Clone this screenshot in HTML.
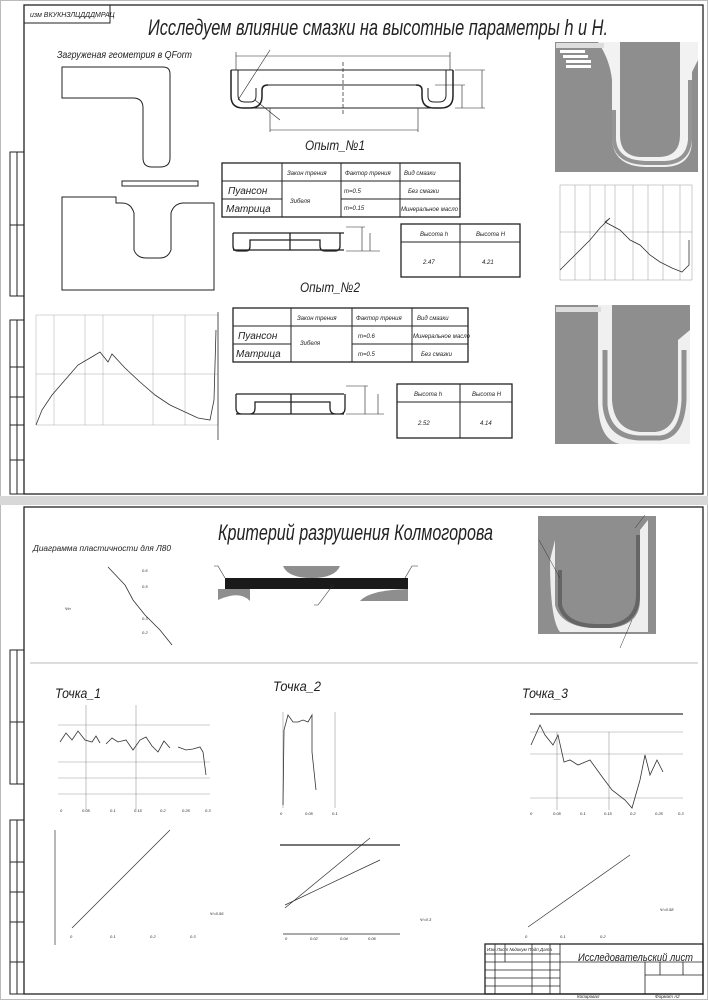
<!DOCTYPE html>
<html><head><meta charset="utf-8"><style>
html,body{margin:0;padding:0;background:#fff}
svg{display:block}
text{font-family:"Liberation Sans","DejaVu Sans",sans-serif;font-style:italic;fill:#222}
</style></head><body>
<svg width="708" height="1000" viewBox="0 0 708 1000" xmlns="http://www.w3.org/2000/svg">
<rect x="0" y="0" width="708" height="1000" fill="#fff"/>
<rect x="0.5" y="0.5" width="707" height="999" fill="none" stroke="#bbb"/>
<rect x="0" y="496" width="708" height="9" fill="#d8d8d8"/>
<g fill="none" stroke="#222" stroke-width="1">
<rect x="24" y="5" width="679" height="489" stroke-width="1.3"/>
<rect x="24" y="5" width="86" height="18"/>
<rect x="10" y="152" width="14" height="144"/><line x1="10" y1="225" x2="24" y2="225"/><line x1="17" y1="152" x2="17" y2="296"/>
<rect x="10" y="320" width="14" height="174"/><line x1="17" y1="320" x2="17" y2="494"/>
<line x1="10" y1="367" x2="24" y2="367"/><line x1="10" y1="397" x2="24" y2="397"/><line x1="10" y1="425" x2="24" y2="425"/><line x1="10" y1="460" x2="24" y2="460"/>
<path d="M62,67 H163 Q170,67 170,74 V158 Q170,167 160,167 H152 Q143,167 143,158 V108 Q143,98 133,98 H62 Z"/>
<rect x="122" y="181" width="76" height="5"/>
<path d="M62,197 H116 V203 H122 Q131,203 134,213 V250 Q137,258 146,258 H160 Q168,258 171,250 V213 Q174,203 184,203 H214 V290 H62 Z"/>
<path d="M231,70 H453 M268,85 H419 M247,108 H440" />
<path d="M231,70 V96 Q231,108 243,108 H250 Q262,108 262,96 V90 Q262,85 268,85" stroke-width="1.5"/>
<path d="M238,70 V95 Q238,102 245,102 H250 Q256,102 256,96 V88" />
<path d="M453,70 V96 Q453,108 441,108 H434 Q422,108 422,96 V90 Q422,85 416,85" stroke-width="1.5"/>
<path d="M446,70 V95 Q446,102 439,102 H434 Q428,102 428,96 V88"/>
<line x1="343" y1="62" x2="343" y2="115" stroke-dasharray="4,2" stroke-width="0.7"/>
<path d="M236,56 H450 M236,52 V70 M450,52 V70 M270,130 H418 M270,108 V132 M418,108 V132" stroke-width="0.6"/>
<path d="M455,70 H485 M455,108 H485 M482,70 V108 M435,85 H465 M462,85 V108" stroke-width="0.6"/>
<path d="M238,100 L270,50 M255,100 L280,120" stroke-width="0.6"/>
<rect x="222" y="163" width="238" height="54" stroke-width="1.3"/>
<path d="M282,163 V217 M341,163 V217 M400,163 V217 M222,181 H460 M222,199 H282 M341,199 H460"/>
<path d="M233,233 H344 M233,250 H344 M290,233 V250 M233,233 V246 Q233,251 238,251 H246 Q250,251 250,246 V240 H320 V246 Q320,251 325,251 H335 Q340,251 340,246 V233" stroke-width="1.3"/>
<path d="M346,227 H365 M346,251 H380 M362,227 V251 M370,233 V251" stroke-width="0.6"/>
<rect x="401" y="224" width="119" height="53" stroke-width="1.3"/>
<path d="M401,242 H520 M460,224 V277"/>
<rect x="233" y="308" width="235" height="54" stroke-width="1.3"/>
<path d="M291,308 V362 M352,308 V362 M412,308 V362 M233,326 H468 M233,344 H291 M352,344 H468"/>
<path d="M236,394 H344 M236,414 H344 M291,394 V414 M236,394 V408 Q236,414 242,414 H250 Q255,414 255,408 V402 H330 V408 Q330,414 336,414 H340 Q345,414 345,408 V394" stroke-width="1.3"/>
<path d="M346,386 H368 M346,414 H384 M365,386 V414 M378,394 V414" stroke-width="0.6"/>
<rect x="397" y="384" width="115" height="54" stroke-width="1.3"/>
<path d="M397,402 H512 M460,384 V438"/>
</g>
<!-- sim image 1 -->
<rect x="555" y="42" width="143" height="130" fill="#8e8e8e"/>
<path d="M598,42 Q610,60 612,80 V140 Q614,166 645,167 H665 Q692,166 692,140 V72 L698,60 V42 Z" fill="#f2f2f2"/>
<path d="M614,110 V140 Q616,162 645,163 H665 Q688,162 690,140 V80" fill="none" stroke="#555" stroke-width="4" opacity="0.6"/>
<path d="M620,42 H680 V135 Q680,156 660,157 H640 Q620,156 620,135 Z" fill="#8e8e8e"/>
<rect x="556" y="43" width="48" height="5" fill="#ddd"/>
<rect x="560" y="50" width="25" height="3" fill="#fff"/><rect x="563" y="55" width="25" height="3" fill="#fff"/><rect x="566" y="60" width="25" height="3" fill="#fff"/><rect x="566" y="65" width="25" height="3" fill="#fff"/>
<!-- chart top right -->
<g fill="none" stroke="#999" stroke-width="0.5">
<rect x="560" y="185" width="132" height="95"/>
<path d="M575,185 V280 M590,185 V280 M605,185 V280 M615,185 V280 M633,185 V280 M648,185 V280 M663,185 V280 M680,185 V280 M560,232 H692"/>
</g>
<path d="M560,270 L575,255 L590,240 L600,228 L610,218 L605,222 L620,230 L630,240 L640,245 L650,255 L660,262 L672,268 L682,272 L689,265 V240" fill="none" stroke="#333" stroke-width="0.8"/>
<!-- chart left -->
<g fill="none" stroke="#aaa" stroke-width="0.5">
<rect x="36" y="315" width="182" height="110"/>
<path d="M54,315 V425 M85,315 V425 M103,315 V425 M153,315 V425 M185,315 V425 M36,374 H218"/>
</g>
<path d="M36,425 L42,410 L52,395 L65,380 L78,365 L90,358 L100,352 L108,362 L112,354 L125,368 L140,382 L155,395 L170,405 L185,412 L198,418 L210,420 L214,400 L216,330" fill="none" stroke="#333" stroke-width="0.8"/>
<line x1="218" y1="312" x2="218" y2="440" stroke="#333" stroke-width="0.8"/>
<!-- sim image 2 -->
<rect x="555" y="305" width="135" height="139" fill="#8e8e8e"/>
<path d="M598,305 H612 V400 Q614,430 640,432 H655 Q676,430 678,400 V340 L690,330 V444 H620 Q598,440 598,400 Z" fill="#f0f0f0"/>
<path d="M605,350 V405 Q608,437 640,438 H660 Q682,436 684,400 V350" fill="none" stroke="#444" stroke-width="5" opacity="0.55"/>
<rect x="612" y="305" width="66" height="95" fill="#8e8e8e"/>
<rect x="556" y="307" width="45" height="5" fill="#ddd"/>

<!-- bottom sheet -->
<g fill="none" stroke="#222" stroke-width="1">
<rect x="24" y="507" width="679" height="487" stroke-width="1.3"/>
<line x1="30" y1="663" x2="698" y2="663" stroke="#bbb"/>
<rect x="10" y="650" width="14" height="134"/><line x1="10" y1="722" x2="24" y2="722"/><line x1="17" y1="650" x2="17" y2="784"/>
<rect x="10" y="820" width="14" height="174"/><line x1="17" y1="820" x2="17" y2="994"/>
<line x1="10" y1="862" x2="24" y2="862"/><line x1="10" y1="892" x2="24" y2="892"/><line x1="10" y1="922" x2="24" y2="922"/><line x1="10" y1="962" x2="24" y2="962"/>
</g>
<path d="M283,566 H340 Q335,578 312,578 Q288,578 283,566 Z" fill="#8e8e8e"/>
<path d="M218,589 H250 V601 Q240,590 218,600 Z" fill="#8e8e8e"/>
<path d="M360,601 Q370,590 408,589 V601 Z" fill="#8e8e8e"/>
<rect x="225" y="578" width="183" height="11" fill="#1a1a1a"/>
<g stroke="#333" stroke-width="0.6" fill="none"><path d="M225,578 L218,566 H214 M405,578 L412,566 H418 M333,585 L318,605 H314"/></g>
<path d="M108,567 L125,585 L133,600 L145,615 L160,630 L172,645" fill="none" stroke="#333" stroke-width="0.8"/>
<g font-size="4" fill="#555"><text x="142" y="572">0.6</text><text x="142" y="588">0.5</text><text x="142" y="620">0.3</text><text x="142" y="634">0.2</text><text x="65" y="610">Ψп</text></g>
<!-- sim image 3 -->
<rect x="538" y="516" width="118" height="118" fill="#8e8e8e"/>
<path d="M555,540 V605 Q560,625 590,628 H610 Q640,625 640,600 V530 L648,520 V632 H560 Q550,620 550,560 Z" fill="#eee"/>
<rect x="570" y="516" width="62" height="94" fill="#8e8e8e"/>
<path d="M560,570 V605 Q565,625 595,626 H610 Q638,622 638,595 V535" fill="none" stroke="#444" stroke-width="4" opacity="0.55"/>
<g stroke="#333" stroke-width="0.5" fill="none"><path d="M539,540 L560,578 M645,515 L635,528 M620,648 L632,620"/></g>
<!-- Tochka charts top -->
<g fill="none" stroke="#999" stroke-width="0.6">
<path d="M58,725 H210 M58,762 H210 M58,778 H210 M58,794 H210 M86,705 V810 M136,705 V810"/>
<path d="M283,712 V808 M335,712 V808"/>
<path d="M530,732 H683 M530,754 H683 M530,798 H683 M557,732 V810 M609,732 V810"/>
</g>
<line x1="530" y1="714" x2="683" y2="714" stroke="#555" stroke-width="1.5"/>
<path d="M60,742 L66,733 L72,740 L78,731 L85,740 L92,742 L96,736 L100,743 M106,744 L112,738 L118,742 L126,740 L133,750 L140,740 L146,737 L152,746 L158,752 L164,741 L170,748 M178,747 L186,750 L193,749 L200,747 L203,752 L206,775" fill="none" stroke="#333" stroke-width="0.8"/>
<path d="M283,805 L284,730 L288,715 L293,722 L298,722 L303,720 L308,722 L312,715 L312,752 L316,790" fill="none" stroke="#333" stroke-width="0.8"/>
<path d="M531,745 L540,725 L545,735 L553,745 L558,735 L564,762 L570,760 L578,765 L590,760 L603,778 L612,790 L625,800 L632,808 L640,780 L645,755 L650,775 L657,760 L663,772" fill="none" stroke="#333" stroke-width="0.8"/>
<g font-size="4" fill="#555">
<text x="60" y="812">0</text><text x="82" y="812">0.05</text><text x="110" y="812">0.1</text><text x="134" y="812">0.15</text><text x="160" y="812">0.2</text><text x="182" y="812">0.25</text><text x="205" y="812">0.3</text>
<text x="280" y="815">0</text><text x="305" y="815">0.05</text><text x="332" y="815">0.1</text>
<text x="530" y="815">0</text><text x="553" y="815">0.05</text><text x="580" y="815">0.1</text><text x="604" y="815">0.15</text><text x="630" y="815">0.2</text><text x="655" y="815">0.25</text><text x="678" y="815">0.3</text>
</g>
<g fill="none" stroke="#333" stroke-width="0.7">
<line x1="55" y1="830" x2="55" y2="945"/>
<line x1="72" y1="928" x2="170" y2="830"/>
<line x1="285" y1="905" x2="380" y2="860"/>
<line x1="285" y1="908" x2="370" y2="838"/>
<line x1="528" y1="927" x2="630" y2="855"/>
</g>
<line x1="280" y1="845" x2="400" y2="845" stroke="#222" stroke-width="1.3"/>
<line x1="283" y1="934" x2="400" y2="934" stroke="#777" stroke-width="1.2"/>
<g font-size="4" fill="#555">
<text x="70" y="938">0</text><text x="110" y="938">0.1</text><text x="150" y="938">0.2</text><text x="190" y="938">0.3</text><text x="210" y="915">Ψ=0.56</text>
<text x="285" y="940">0</text><text x="310" y="940">0.02</text><text x="340" y="940">0.04</text><text x="368" y="940">0.06</text><text x="420" y="921">Ψ=0.3</text>
<text x="525" y="938">0</text><text x="560" y="938">0.1</text><text x="600" y="938">0.2</text><text x="660" y="911">Ψ=0.58</text>
</g>
<g fill="none" stroke="#222" stroke-width="0.8">
<rect x="485" y="944" width="218" height="50" stroke-width="1.3"/>
<path d="M485,954 H560 M485,962 H560 M485,970 H560 M485,978 H560 M485,986 H560 M495,944 V994 M505,944 V962 M532,944 V994 M550,944 V994 M560,944 V994 M560,962 H703 M645,962 V994 M645,975 H703 M660,962 V975 M683,962 V975"/>
</g>
<text x="30" y="17" font-size="7">изм  ВКУКНЗЛЦДДДМРАЦ</text>
<text x="148" y="35" font-size="22" textLength="460" lengthAdjust="spacingAndGlyphs">Исследуем влияние смазки на высотные параметры h и H.</text>
<text x="57" y="58" font-size="10" textLength="135" lengthAdjust="spacingAndGlyphs">Загруженая геометрия в QForm</text>
<text x="305" y="150" font-size="14" textLength="60" lengthAdjust="spacingAndGlyphs">Опыт_№1</text>
<text x="300" y="292" font-size="14" textLength="60" lengthAdjust="spacingAndGlyphs">Опыт_№2</text>
<g font-size="6">
<text x="287" y="175">Закон трения</text><text x="345" y="175">Фактор трения</text><text x="404" y="175">Вид смазки</text>
<text x="344" y="193">m=0.5</text><text x="408" y="193">Без смазки</text>
<text x="344" y="210">m=0.15</text><text x="401" y="211">Минеральное масло</text>
<text x="290" y="203">Зибеля</text>
<text x="420" y="236">Высота h</text><text x="476" y="236">Высота H</text>
<text x="423" y="264">2.47</text><text x="482" y="264">4.21</text>
<text x="297" y="320">Закон трения</text><text x="356" y="320">Фактор трения</text><text x="417" y="320">Вид смазки</text>
<text x="358" y="338">m=0.6</text><text x="413" y="338">Минеральное масло</text>
<text x="358" y="356">m=0.5</text><text x="421" y="356">Без смазки</text>
<text x="300" y="345">Зибеля</text>
<text x="414" y="396">Высота h</text><text x="472" y="396">Высота H</text>
<text x="418" y="425">2.52</text><text x="480" y="425">4.14</text>
</g>
<text x="228" y="194" font-size="10">Пуансон</text><text x="226" y="212" font-size="10">Матрица</text>
<text x="238" y="339" font-size="10">Пуансон</text><text x="236" y="357" font-size="10">Матрица</text>
<text x="218" y="540" font-size="22" textLength="275" lengthAdjust="spacingAndGlyphs">Критерий разрушения Колмогорова</text>
<text x="33" y="551" font-size="8.5" textLength="138" lengthAdjust="spacingAndGlyphs">Диаграмма пластичности для Л80</text>
<text x="55" y="698" font-size="14" textLength="46" lengthAdjust="spacingAndGlyphs">Точка_1</text>
<text x="273" y="691" font-size="14" textLength="48" lengthAdjust="spacingAndGlyphs">Точка_2</text>
<text x="522" y="698" font-size="14" textLength="46" lengthAdjust="spacingAndGlyphs">Точка_3</text>
<text x="578" y="961" font-size="11" textLength="115" lengthAdjust="spacingAndGlyphs">Исследовательский лист</text>
<g font-size="4.5"><text x="487" y="951">Изм Лист  №докум  Подп  Дата</text><text x="577" y="998">Копировал</text><text x="655" y="998">Формат A2</text></g>
</svg>
</body></html>
